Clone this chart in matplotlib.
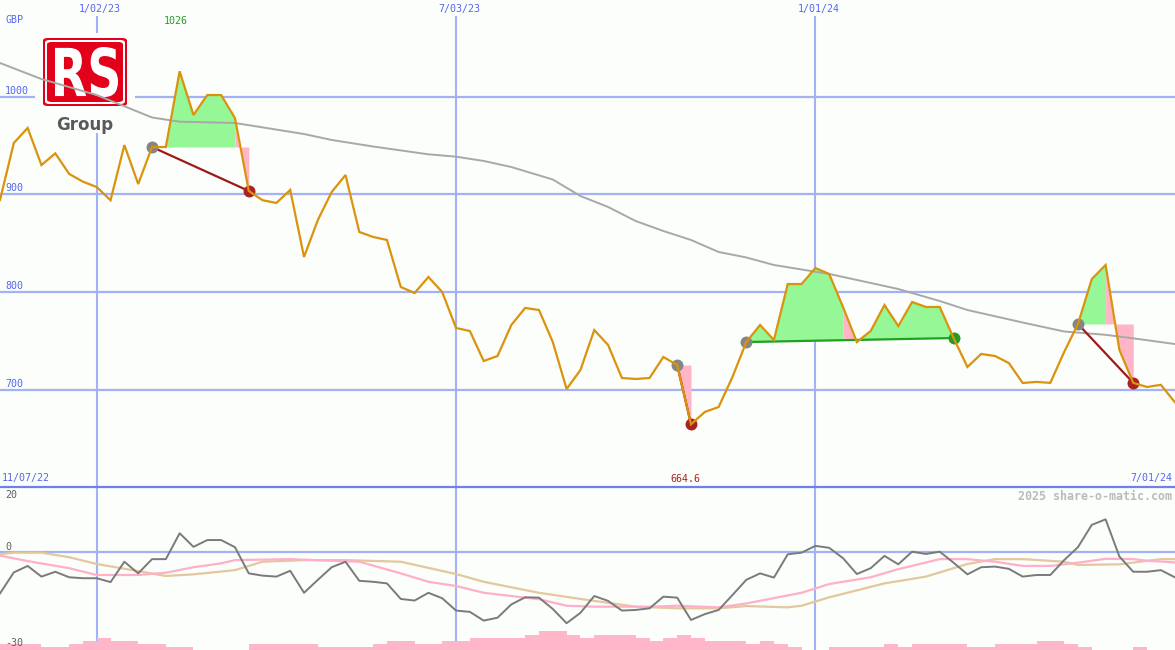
import matplotlib
matplotlib.use("Agg")
import matplotlib.pyplot as plt
import numpy as np
from matplotlib.patches import FancyBboxPatch, Rectangle, PathPatch
from matplotlib.textpath import TextPath
from matplotlib.font_manager import FontProperties
from matplotlib.transforms import Affine2D
from matplotlib.lines import Line2D

# === data (weekly closes, GBP) ===
price = [894.2, 952.6, 968.0, 930.0, 942.0, 921.0, 913.0, 907.5, 894.0, 950.5,
         910.6, 948.5, 948.5, 1026.0, 981.3, 1001.7, 1001.7, 978.2, 903.5, 894.0,
         891.2, 904.5, 835.9, 873.8, 902.4, 919.8, 861.5, 856.4, 853.3, 805.2,
         799.0, 815.4, 800.0, 763.2, 760.1, 729.4, 734.5, 766.3, 783.7, 781.6,
         748.8, 700.7, 720.2, 761.1, 745.8, 712.0, 711.0, 712.0, 733.5, 725.3,
         664.6, 677.2, 682.3, 713.0, 748.8, 766.3, 750.9, 808.2, 808.2, 824.6,
         818.5, 784.7, 748.8, 760.1, 786.7, 765.2, 789.8, 784.7, 784.7, 752.9,
         723.3, 736.6, 734.5, 727.3, 706.9, 708.0, 707.0, 738.6, 767.3, 813.3,
         827.7, 740.7, 707.0, 702.8, 705.0, 687.4]

# long moving average (week, value)
ma_w = [0, 3, 7, 11, 13, 17, 22, 24, 27, 31, 33, 35, 37, 40, 42, 44, 46, 48, 50,
        52, 54, 56, 58, 60, 63, 65, 68, 70, 74, 77, 80, 82, 85]
ma_v = [1034.5, 1018.1, 1001.7, 978.7, 974.4, 973.1, 961.8, 955.7, 949.0, 941.0,
        938.6, 934.2, 928.0, 915.2, 898.3, 887.1, 872.7, 862.5, 853.3, 841.0,
        835.4, 827.7, 823.1, 818.5, 809.3, 803.1, 790.8, 781.6, 768.8, 759.6,
        756.2, 752.6, 746.8]

# trade signals: entry week, exit week, win?
sig_start = [11, 49, 54, 78]
sig_end = [18, 50, 69, 82]
sig_win = [False, False, True, False]
# stretches of each trade shaded green / pink
green_from = [11, 54, 62, 78]
green_to = [17, 61, 69, 80]
pink_from = [17, 49, 61, 80]
pink_to = [18, 50, 62, 82]

# lower panel
momentum = [-12.9, -6.4, -4.4, -7.7, -6.2, -7.9, -8.2, -8.2, -9.4, -3.1,
            -6.7, -2.3, -2.3, 5.7, 1.5, 3.6, 3.6, 1.4, -6.7, -7.4,
            -7.7, -5.9, -12.7, -8.7, -4.8, -3.1, -9.0, -9.3, -9.8, -14.6,
            -15.1, -12.7, -14.4, -18.2, -18.6, -21.3, -20.4, -16.3, -14.1, -14.2,
            -17.7, -22.1, -18.9, -13.7, -15.2, -18.2, -18.0, -17.5, -13.9, -14.2,
            -21.1, -19.3, -18.0, -13.4, -8.7, -6.7, -8.0, -0.8, -0.3, 1.8,
            1.2, -2.0, -6.9, -5.1, -1.3, -3.9, 0.0, -0.7, 0.0, -3.4,
            -7.0, -4.8, -4.6, -5.3, -7.7, -7.2, -7.2, -2.6, 1.4, 8.3,
            10.0, -1.5, -6.2, -6.2, -5.7, -7.9]
pink_w = [0, 2, 5, 7, 10, 12, 14, 16, 17, 21, 24, 26, 29, 31, 33, 35, 39, 41, 43,
          47, 49, 52, 54, 58, 60, 63, 65, 68, 70, 72, 74, 76, 78, 80, 82, 83, 85]
pink_v = [-1.2, -2.9, -5.1, -7.2, -7.2, -6.5, -4.8, -3.6, -2.6, -2.3, -2.8, -3.1,
          -6.7, -9.3, -10.6, -12.7, -14.7, -16.7, -17.0, -17.0, -16.7, -17.2, -16.0,
          -12.7, -10.0, -7.9, -5.4, -2.3, -2.3, -3.1, -4.4, -4.4, -3.4, -2.2, -2.3,
          -2.8, -3.3]
tan_w = [0, 1, 3, 5, 7, 10, 12, 14, 17, 19, 22, 25, 29, 33, 35, 39, 42, 46, 49,
         52, 54, 57, 58, 60, 64, 67, 70, 72, 74, 77, 78, 81, 84, 85]
tan_v = [-0.8, -0.3, -0.3, -1.7, -3.8, -6.0, -7.5, -7.0, -5.7, -3.1, -2.6, -2.6,
         -3.1, -6.9, -9.3, -12.7, -14.6, -17.0, -17.5, -17.5, -16.8, -17.2, -16.7,
         -14.1, -9.8, -7.7, -3.8, -2.3, -2.3, -3.1, -4.1, -3.9, -2.3, -2.3]
bar_h = [1.9, 1.9, 1.9, 0.9, 0.9, 1.9, 2.8, 3.7, 2.8, 2.8, 1.9, 1.9, 0.9, 0.9, 0, 0,
         0, 0, 1.9, 1.9, 1.9, 1.9, 1.9, 0.9, 0.9, 0.9, 0.9, 1.9, 2.8, 2.8, 1.9, 1.9,
         2.8, 2.8, 3.7, 3.7, 3.7, 3.7, 4.6, 5.9, 5.9, 4.6, 3.7, 4.6, 4.6, 4.6, 3.7, 2.8,
         3.7, 4.6, 3.7, 2.8, 2.8, 2.8, 1.9, 2.8, 1.9, 0.9, 0, 0, 0.8, 0.8, 0.8, 0.8,
         1.9, 0.8, 1.9, 1.9, 1.9, 1.9, 0.8, 0.8, 1.9, 1.9, 1.9, 2.8, 2.8, 1.9, 0.8, 0,
         0, 0, 0.8, 0, 0, 0]

price_levels = [1000, 900, 800, 700]
grid_weeks = [7, 33, 59]
grid_dates = ["1/02/23", "7/03/23", "1/01/24"]
first_date, last_date = "11/07/22", "7/01/24"

# === layout / style ===
W, H = 1175, 650
DX = 13.82            # px per week
Y1000, PXG = 96.7, 0.9767
MAIN_TOP, SPLIT = 16, 487
BG = "#FBFEFB"
GRID = "#A3B2F5"
BLUE = "#5566EE"
PRICE_C = "#DA930B"
RED = "#A82222"
GREEN = "#22A022"
PINK = "#FFB5C6"

fx = lambda x: x / W
fy = lambda y: 1 - y / H

weeks = np.arange(len(price))
price = np.array(price)

fig = plt.figure(figsize=(W / 100, H / 100), dpi=100, facecolor=BG)
ax = fig.add_axes([0, fy(SPLIT), 1, (SPLIT - MAIN_TOP) / H])
ax2 = fig.add_axes([0, 0, 1, (H - SPLIT) / H])
for a in (ax, ax2):
    a.set_facecolor(BG)
    a.set_xlim(0, W / DX)
    a.set_xticks([])
    a.set_yticks([])
    for s in a.spines.values():
        s.set_visible(False)
ax.set_ylim(1000 - (SPLIT - Y1000) / PXG, 1000 + (Y1000 - MAIN_TOP) / PXG)
ax2.set_ylim(-(H - 551.7) / 3.235, 20)

# grid
for p in price_levels:
    ax.axhline(p, color=GRID, lw=1.6, zorder=1)
for w in grid_weeks:
    ax.axvline(w, color=GRID, lw=1.5, zorder=1)
    ax2.axvline(w, color=GRID, lw=1.5, zorder=1)
ax2.axhline(0, color=GRID, lw=1.6, zorder=1)

# logo (drawn inside the main axes so the average line passes over it)
tf = fig.transFigure
ax.add_patch(Rectangle((fx(35), fy(133)), fx(100), 100 / H, transform=tf,
                       fc=BG, ec="none", zorder=2))
for (x0, y0, x1, y1, c) in [(43, 38, 127, 106, "#E3001B"), (45, 40, 125, 104, "white"),
                            (47, 42, 123, 102, "#E3001B")]:
    ax.add_patch(FancyBboxPatch((fx(x0), fy(y1)), fx(x1 - x0), (y1 - y0) / H,
                                boxstyle="round,pad=0,rounding_size=0.004",
                                transform=tf, fc=c, ec="none", zorder=2.1))
tp = TextPath((0, 0), "RS", size=10, prop=FontProperties(family="DejaVu Sans", weight="bold"))
bb = tp.get_extents()
tr = (Affine2D().translate(-bb.x0, -bb.y0)
      .scale((118 - 55) / bb.width, (97 - 47) / bb.height)
      .translate(55, H - 97).scale(1 / W, 1 / H) + tf)
ax.add_patch(PathPatch(tp, transform=tr, fc="white", ec="none", zorder=2.2))
fig.text(fx(84.5), fy(125), "Group", ha="center", va="center", fontsize=12,
         fontweight="bold", color="#58595B", family="DejaVu Sans")


def trade_base(a):
    # baseline of the trade that contains week a: flat at entry, or entry->exit for a win
    k = [i for i in range(len(sig_start)) if sig_start[i] <= a < sig_end[i]][0]
    s, e = sig_start[k], sig_end[k]
    if sig_win[k]:
        return lambda xs: np.interp(xs, [s, e], [price[s], price[e]])
    return lambda xs: np.full(len(xs), price[s])


for frm, to, col in [(green_from, green_to, "#95F795"), (pink_from, pink_to, PINK)]:
    for a, b in zip(frm, to):
        xs = weeks[a:b + 1]
        ax.fill_between(xs, price[a:b + 1], trade_base(a)(xs), color=col, lw=0, zorder=3)

ax.plot(ma_w, ma_v, color="#A8A8A8", lw=1.4, zorder=4)

for s, e, win in zip(sig_start, sig_end, sig_win):
    ax.plot([s, e], [price[s], price[e]], color=GREEN if win else "#9E1A1A",
            lw=1.6, zorder=5)
    ax.plot(s, price[s], "o", ms=8.6, color="#858585", mec="none", zorder=6)
    ax.plot(e, price[e], "o", ms=8.6, color="#229B22" if win else RED, mec="none", zorder=6)

ax.plot(weeks, price, color=PRICE_C, lw=1.6, zorder=7, solid_joinstyle="miter")

# lower panel
ax2.bar(weeks, bar_h, width=1, align="edge", bottom=ax2.get_ylim()[0],
        color="#FFB6C8", lw=0, zorder=2)
ax2.plot(tan_w, tan_v, color="#E2C89C", lw=1.6, zorder=3)
ax2.plot(pink_w, pink_v, color="#FFB0C8", lw=1.6, zorder=3)
ax2.plot(weeks, momentum, color="#7A7A7A", lw=1.4, zorder=4)

fig.add_artist(Line2D([0, 1], [fy(SPLIT)] * 2, color="#6F80EE", lw=1.6, zorder=5))

# texts
mono = dict(family="DejaVu Sans Mono", fontsize=7.2)
fig.text(fx(5), fy(20), "GBP", color=BLUE, va="center", **mono)
for p in price_levels:
    fig.text(fx(5), fy(Y1000 + (1000 - p) * PXG - 6), str(p), color=BLUE, va="center", **mono)
for w, d in zip(grid_weeks, grid_dates):
    fig.text(fx(w * DX + 3), fy(9), d, color=BLUE, ha="center", va="center", **mono)
i_max, i_min = int(np.argmax(price)), int(np.argmin(price))
fig.text(fx(i_max * DX - 4), fy(21), f"{price[i_max]:g}", color=GREEN, ha="center",
         va="center", **mono)
fig.text(fx(i_min * DX - 6), fy(478.5), f"{price[i_min]:g}", color=RED, ha="center",
         va="center", **mono)
fig.text(fx(2), fy(478.5), first_date, color=BLUE, va="center", **mono)
fig.text(fx(1172), fy(478.5), last_date, color=BLUE, ha="right", va="center", **mono)
fig.text(fx(1172), fy(496), "2025 share-o-matic.com", color="#BBBBBB", ha="right",
         va="center", family="DejaVu Sans Mono", fontsize=8.4, fontweight="bold")
for v, y in [("20", 495.5), ("0", 546.5), ("-30", 642.5)]:
    fig.text(fx(5), fy(y), v, color="#606060", va="center", **mono)

fig.savefig("out.png", dpi=100, facecolor=BG)
